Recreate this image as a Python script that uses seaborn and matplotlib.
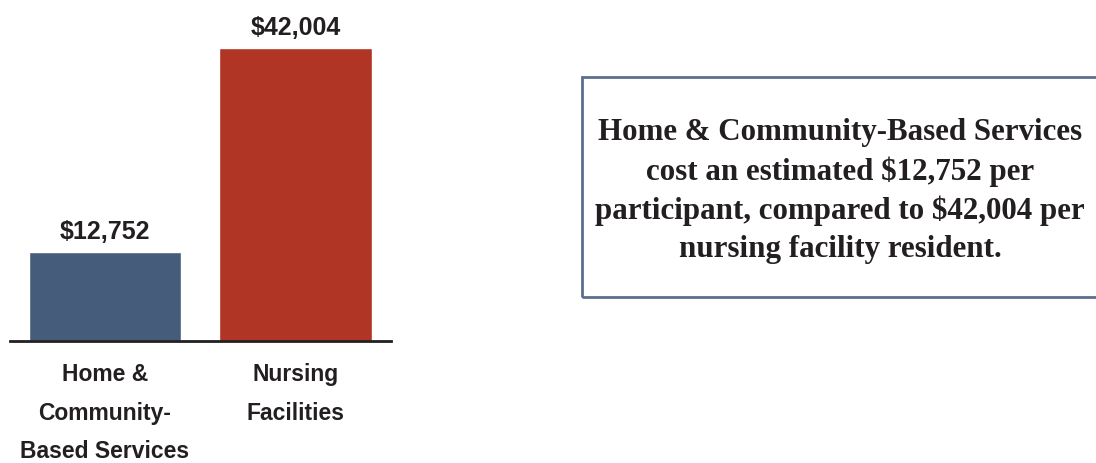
import matplotlib
matplotlib.use("Agg")
import matplotlib.pyplot as plt
import seaborn as sns
import pandas as pd
from matplotlib.patches import Rectangle

categories = ["Home &\nCommunity-\nBased Services", "Nursing\nFacilities"]
values = [12752, 42004]
value_labels = ["$12,752", "$42,004"]
colors = ["#455d7b", "#b03525"]
note = ("Home & Community-Based Services\ncost an estimated $12,752 per\n"
        "participant, compared to $42,004 per\nnursing facility resident.")

sns.set_theme(style="white")
plt.rcParams['font.family'] = ['Liberation Sans Narrow', 'Liberation Sans', 'DejaVu Sans']

df = pd.DataFrame({"cat": categories, "val": values})

fig = plt.figure(figsize=(10.96, 4.63), dpi=100)
ax = fig.add_axes([9.5 / 1096, (463 - 341) / 463, (391 - 9.5) / 1096, 293 / 463])
sns.barplot(data=df, x="cat", y="val", hue="cat", palette=colors, width=0.8,
            saturation=1, legend=False, ax=ax)
ax.set_xlim(-0.5, 1.5)
ax.set_ylim(0, 42004)
for s in ["top", "right", "left"]:
    ax.spines[s].set_visible(False)
ax.spines["bottom"].set_color("#231f20")
ax.spines["bottom"].set_linewidth(2)
ax.set_yticks([])
ax.set_xlabel("")
ax.set_ylabel("")
ax.tick_params(axis="x", length=0, pad=16)
ax.set_xticks(range(len(categories)))
ax.set_xticklabels(categories, fontsize=16.5, fontweight="bold", color="#231f20",
                   linespacing=1.85, va="top")
for i, (v, lab) in enumerate(zip(values, value_labels)):
    ax.annotate(lab, xy=(i, v), xytext=(0, 6), textcoords="offset points",
                ha="center", va="bottom", fontsize=18, fontweight="bold",
                color="#231f20", annotation_clip=False)

# text box
fig.patches.append(Rectangle((582 / 1096, (463 - 297) / 463), (1100 - 582) / 1096, 220 / 463,
                             transform=fig.transFigure, fill=False,
                             edgecolor="#5b6f8c", linewidth=2))
fig.text(840 / 1096, 1 - 191 / 463, note, ha="center", va="center",
         family=["Liberation Serif", "DejaVu Serif"], fontweight="bold",
         fontsize=22.3, linespacing=1.4, color="#231f20")

fig.savefig("out.png", dpi=100)
